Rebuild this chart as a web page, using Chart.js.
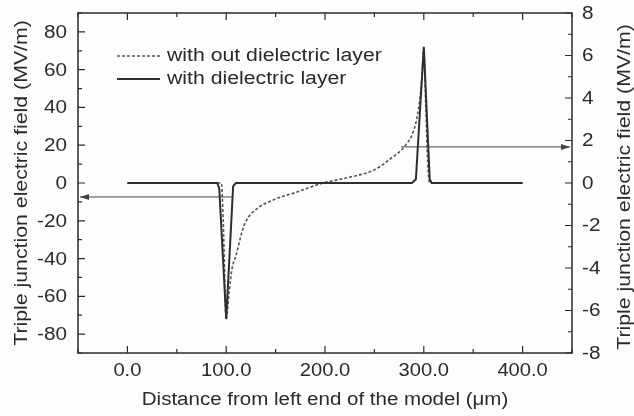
<!DOCTYPE html>
<html>
<head>
<meta charset="utf-8">
<script src="https://cdn.jsdelivr.net/npm/chart.js@4"></script>
<style>
  body { margin: 0; background: #fdfdfb; }
  #fieldChart { display: block; }
</style>
</head>
<body>
<canvas id="fieldChart" width="634" height="416"></canvas>
<script>
// tick labels
const xTicks = [0, 100, 200, 300, 400];
const xMinor = [-50, 50, 150, 250, 350, 450];
const leftTicks = [-80, -60, -40, -20, 0, 20, 40, 60, 80];
const leftMinor = [-90, -70, -50, -30, -10, 10, 30, 50, 70, 90];
const rightTicks = [-8, -6, -4, -2, 0, 2, 4, 6, 8];
const rightMinor = [-7, -5, -3, -1, 1, 3, 5, 7];

const xTitle = 'Distance from left end of the model (μm)';
const yTitle = 'Triple junction electric field (MV/m)';

// with dielectric layer (left axis, MV/m)
const solidX = [0, 91, 93, 100, 107, 108, 110, 200, 288, 292, 300, 306, 308, 400];
const solidY = [0, 0, -3, -72, -2, -1, 0, 0, 0, 2, 72, 2, 0, 0];

// with out dielectric layer (right axis, MV/m)
const dashX = [0, 95, 97, 100, 103, 106, 110, 116, 120, 130, 150, 170, 198, 220, 250, 265, 280, 290, 295, 298, 300, 302, 304, 306, 400];
const dashY = [0, 0, -1.8, -6.4, -5.1, -4.0, -3.4, -2.3, -1.8, -1.25, -0.75, -0.45, 0, 0.22, 0.62, 1.1, 1.7, 2.5, 3.6, 4.9, 6.4, 3.6, 0.9, 0, 0];

// arrows: [x from, x to, y, axis]
const arrows = [
  [107, -50, -7.4, 'y'],
  [277, 450, 1.7, 'y2']
];

const inkColor = '#2a2a2a';
const fontFamily = '"Liberation Sans", Arial, sans-serif';

// text in the picture is a little wider than the font, so stretch it along its run
function drawText(ctx, text, x, y, size, align, rot, stretch) {
  ctx.save();
  ctx.translate(x, y);
  ctx.rotate(rot);
  ctx.scale(stretch, 1);
  ctx.font = size + 'px ' + fontFamily;
  ctx.textAlign = align;
  ctx.textBaseline = 'middle';
  ctx.fillStyle = inkColor;
  ctx.fillText(text, 0, 0);
  ctx.restore();
}

const framePlugin = {
  id: 'frame',
  afterDatasetsDraw(chart) {
    const ctx = chart.ctx;
    const area = chart.chartArea;
    const sx = chart.scales.x, sy = chart.scales.y, sy2 = chart.scales.y2;
    ctx.save();

    // arrows
    ctx.strokeStyle = '#444';
    ctx.fillStyle = '#444';
    ctx.lineWidth = 1;
    arrows.forEach(a => {
      const x1 = sx.getPixelForValue(a[0]);
      const x2 = sx.getPixelForValue(a[1]);
      const yy = chart.scales[a[3]].getPixelForValue(a[2]);
      const dir = x2 > x1 ? 1 : -1;
      const tip = x2 - dir * 2;
      ctx.beginPath();
      ctx.moveTo(x1, yy);
      ctx.lineTo(tip, yy);
      ctx.stroke();
      ctx.beginPath();
      ctx.moveTo(tip, yy);
      ctx.lineTo(tip - dir * 9, yy - 3);
      ctx.lineTo(tip - dir * 9, yy + 3);
      ctx.closePath();
      ctx.fill();
    });

    // frame
    ctx.strokeStyle = inkColor;
    ctx.lineWidth = 1.5;
    ctx.strokeRect(area.left, area.top, area.right - area.left, area.bottom - area.top);

    // inward ticks
    ctx.lineWidth = 1.2;
    ctx.beginPath();
    const tickX = (vals, len) => vals.forEach(v => {
      const p = sx.getPixelForValue(v);
      ctx.moveTo(p, area.bottom); ctx.lineTo(p, area.bottom - len);
      ctx.moveTo(p, area.top); ctx.lineTo(p, area.top + len);
    });
    tickX(xTicks, 7);
    tickX(xMinor, 4);
    const tickY = (scale, vals, len, side) => vals.forEach(v => {
      const p = scale.getPixelForValue(v);
      const edge = side < 0 ? area.left : area.right;
      ctx.moveTo(edge, p); ctx.lineTo(edge - side * len, p);
    });
    tickY(sy, leftTicks, 7, -1);
    tickY(sy, leftMinor, 4, -1);
    tickY(sy2, rightTicks, 7, 1);
    tickY(sy2, rightMinor, 4, 1);
    ctx.stroke();

    // tick labels
    xTicks.forEach(v => drawText(ctx, v.toFixed(1), sx.getPixelForValue(v), area.bottom + 18, 18, 'center', 0, 1.12));
    leftTicks.forEach(v => drawText(ctx, String(v), area.left - 11, sy.getPixelForValue(v) + 1, 18, 'right', 0, 1.15));
    rightTicks.forEach(v => drawText(ctx, String(v), area.right + 10, sy2.getPixelForValue(v) + 1, 18, 'left', 0, 1.15));

    // axis titles
    drawText(ctx, xTitle, 325, 400, 18, 'center', 0, 1.14);
    drawText(ctx, yTitle, 22, (area.top + area.bottom) / 2, 19, 'center', -Math.PI / 2, 1.12);
    drawText(ctx, yTitle, 625, (area.top + area.bottom) / 2 + 4, 19, 'center', -Math.PI / 2, 1.12);

    // legend
    const rows = [56, 79];
    [1, 0].forEach((di, i) => {
      const ds = chart.data.datasets[di];
      ctx.strokeStyle = ds.borderColor;
      ctx.lineWidth = ds.borderWidth;
      ctx.setLineDash(ds.borderDash || []);
      ctx.beginPath();
      ctx.moveTo(117, rows[i]);
      ctx.lineTo(160, rows[i]);
      ctx.stroke();
      ctx.setLineDash([]);
      drawText(ctx, ds.label, 167, rows[i], 18, 'left', 0, 1.18);
    });
    ctx.restore();
  }
};

new Chart(document.getElementById('fieldChart'), {
  type: 'line',
  data: {
    datasets: [
      {
        label: 'with dielectric layer',
        data: solidX.map((x, i) => ({ x: x, y: solidY[i] })),
        borderColor: '#2e2e2e',
        borderWidth: 2,
        yAxisID: 'y'
      },
      {
        label: 'with out dielectric layer',
        data: dashX.map((x, i) => ({ x: x, y: dashY[i] })),
        borderColor: '#555',
        borderWidth: 1.6,
        borderDash: [3, 2],
        cubicInterpolationMode: 'monotone',
        yAxisID: 'y2'
      }
    ]
  },
  options: {
    responsive: false,
    animation: false,
    layout: { padding: { top: 13 } },
    elements: { point: { radius: 0 } },
    plugins: { legend: { display: false }, tooltip: { enabled: false } },
    scales: {
      x: {
        type: 'linear',
        min: -50,
        max: 450,
        afterBuildTicks: s => { s.ticks = xTicks.map(v => ({ value: v })); },
        afterFit: s => { s.height = 63; },
        grid: { display: false },
        border: { display: false },
        ticks: { display: false }
      },
      y: {
        position: 'left',
        min: -90,
        max: 90,
        afterBuildTicks: s => { s.ticks = leftTicks.map(v => ({ value: v })); },
        afterFit: s => { s.width = 78; },
        grid: { display: false },
        border: { display: false },
        ticks: { display: false }
      },
      y2: {
        position: 'right',
        min: -8,
        max: 8,
        afterBuildTicks: s => { s.ticks = rightTicks.map(v => ({ value: v })); },
        afterFit: s => { s.width = 62; },
        grid: { display: false },
        border: { display: false },
        ticks: { display: false }
      }
    }
  },
  plugins: [framePlugin]
});
</script>
</body>
</html>
